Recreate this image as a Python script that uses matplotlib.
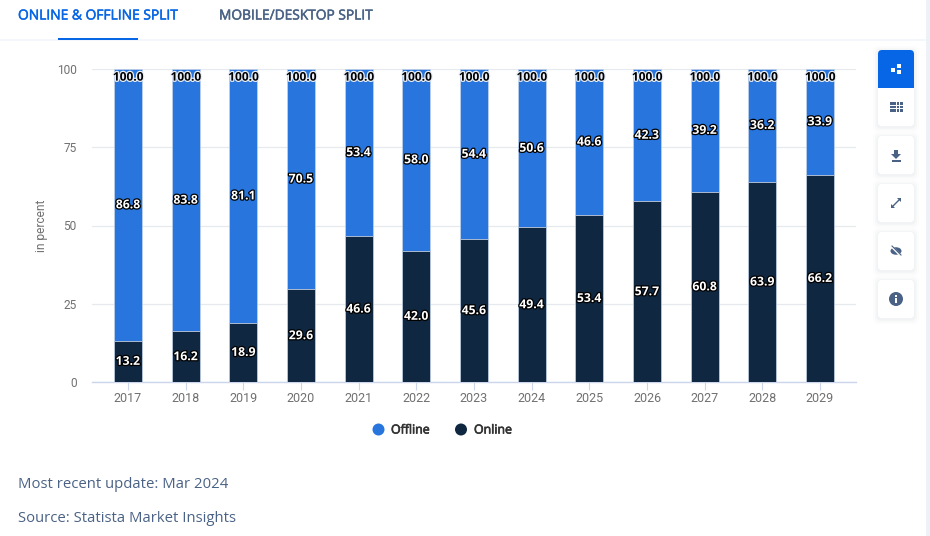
#!/usr/bin/env python3
"""Online/offline split stacked bars, Statista style page."""

import matplotlib
matplotlib.use("Agg")
import matplotlib.patheffects as pe
import matplotlib.pyplot as plt
import numpy as np
from matplotlib.patches import Circle, Ellipse, FancyBboxPatch, Polygon, Rectangle

W, H = 930, 536

years = ["2017", "2018", "2019", "2020", "2021", "2022", "2023",
         "2024", "2025", "2026", "2027", "2028", "2029"]
online = [13.2, 16.2, 18.9, 29.6, 46.6, 42.0, 45.6, 49.4, 53.4, 57.7, 60.8, 63.9, 66.2]
offline = [86.8, 83.8, 81.1, 70.5, 53.4, 58.0, 54.4, 50.6, 46.6, 42.3, 39.2, 36.2, 33.9]
totals = [100.0] * 13
y_ticks = [0, 25, 50, 75, 100]
series_names = ["Offline", "Online"]

BLUE = "#2775dd"
NAVY = "#0f2740"
TAB_BLUE = "#0666e5"
SLATE = "#4a6285"
TICK_GREY = "#707070"

plt.rcParams["font.family"] = ["Open Sans", "DejaVu Sans"]

fig = plt.figure(figsize=(W / 100, H / 100), dpi=100, facecolor="white")

# page layer in pixel coordinates
bg = fig.add_axes([0, 0, 1, 1], zorder=0)
bg.set_xlim(0, W)
bg.set_ylim(H, 0)
bg.axis("off")


def fat(color, width=0.35):
    # the fonts here have no usable medium weight, so thicken regular a little
    return [pe.withStroke(linewidth=width, foreground=color)]


bg.add_patch(Rectangle((926, 0), 4, H, color="#eef1f6", lw=0))
bg.add_patch(Rectangle((0, 39), 926, 1.5, color="#f3f6fa", lw=0))
bg.add_patch(Rectangle((58, 38), 80, 2, color=TAB_BLUE, lw=0))
bg.text(18, 16, "ONLINE & OFFLINE SPLIT", fontsize=9.95, color=TAB_BLUE, va="center", path_effects=fat(TAB_BLUE))
bg.text(219, 16, "MOBILE/DESKTOP SPLIT", fontsize=9.9, color=SLATE, va="center", path_effects=fat(SLATE))
bg.text(18, 484, "Most recent update: Mar 2024", fontsize=10.75, color=SLATE, va="center")
bg.text(18, 518, "Source: Statista Market Insights", fontsize=10.75, color=SLATE, va="center")


def button(x, y, w, h, color="white"):
    for grow, alpha in ((5, 0.012), (3, 0.018), (1.5, 0.025)):
        bg.add_patch(FancyBboxPatch((x - grow, y - grow + 1), w + 2 * grow, h + 2 * grow,
                                    boxstyle="round,pad=0,rounding_size=5", fc="#1a3050",
                                    ec="none", alpha=alpha))
    bg.add_patch(FancyBboxPatch((x, y), w, h, boxstyle="round,pad=0,rounding_size=4",
                                fc=color, ec="none"))


# right hand tool buttons
button(878, 50, 36, 76)
button(878, 136, 36, 38)
button(878, 184, 36, 38)
button(878, 232, 36, 38)
button(878, 280, 36, 38)
bg.add_patch(FancyBboxPatch((878, 50), 36, 38, boxstyle="round,pad=0,rounding_size=4",
                            fc=TAB_BLUE, ec="none"))
bg.add_patch(Rectangle((878, 76), 36, 12, color=TAB_BLUE, lw=0))

# icons
for x, y, w, h in [(891, 68, 4, 4), (897, 64, 4, 4), (897, 69.5, 4, 4.5)]:
    bg.add_patch(Rectangle((x, y), w, h, color="white", lw=0))
for row in range(3):
    y = 102 + row * 3.6
    bg.add_patch(Rectangle((890, y), 6, 2.8, color=SLATE, lw=0))
    for col in range(2):
        bg.add_patch(Rectangle((897 + col * 3.2, y), 2.4, 2.8, color=SLATE, lw=0))
bg.add_patch(Polygon([(894, 150), (898, 150), (898, 154), (901, 154), (896, 159), (891, 154), (894, 154)],
                     color=SLATE, lw=0))
bg.add_patch(Rectangle((892, 160), 8.5, 1.5, color=SLATE, lw=0))
bg.plot([893, 899], [206, 200], color=SLATE, lw=1.0)
bg.add_patch(Polygon([(891, 204), (891, 208), (895, 208)], color=SLATE, lw=0))
bg.add_patch(Polygon([(897, 198), (901, 198), (901, 202)], color=SLATE, lw=0))
bg.add_patch(Ellipse((896, 251), 11, 7.5, color=SLATE, lw=0))
bg.plot([891, 901], [246, 256], color="white", lw=1.6)
bg.plot([892, 901], [246, 255], color=SLATE, lw=0.8)
bg.add_patch(Circle((896, 299), 7, color=SLATE, lw=0))
bg.add_patch(Rectangle((895.1, 298), 1.9, 4.6, color="white", lw=0))
bg.add_patch(Rectangle((895.1, 295), 1.9, 1.9, color="white", lw=0))

# legend, drawn by hand to sit where the page has it
bg.add_patch(Circle((378.5, 429.5), 6, color=BLUE, lw=0))
bg.add_patch(Circle((461, 429.5), 6, color=NAVY, lw=0))
bg.text(391, 430, series_names[0], fontsize=8.9, color="#333333", va="center", path_effects=fat("#333333", 0.5))
bg.text(474, 430, series_names[1], fontsize=8.9, color="#333333", va="center", path_effects=fat("#333333", 0.5))

# chart
left, right, top, bottom = 92, 856, 69, 382
ax = fig.add_axes([left / W, 1 - bottom / H, (right - left) / W, (bottom - top) / H], zorder=1)
ax.patch.set_alpha(0)
x = np.arange(len(years))
bar_w = 0.485
edge = "#c5d3ea"
ax.bar(x, offline, bar_w, bottom=online, color=BLUE, edgecolor=edge, linewidth=0.5, zorder=3)
ax.bar(x, online, bar_w, color=NAVY, edgecolor=edge, linewidth=0.5, zorder=3)

ax.set_xlim(-0.624, 12.624)
ax.set_ylim(0, 100)
ax.set_yticks(y_ticks)
ax.set_xticks(x, years)
ax.grid(axis="y", color="#e6e9ee", lw=0.9, zorder=0)
ax.set_axisbelow(True)
for side in ("top", "right", "left"):
    ax.spines[side].set_visible(False)
ax.spines["bottom"].set_color("#ccd6eb")
ax.spines["bottom"].set_linewidth(1)
ax.tick_params(axis="x", length=6, color="#ccd6eb", labelsize=9, labelcolor=TICK_GREY, pad=1)
ax.tick_params(axis="y", length=0, labelsize=8.6, labelcolor=TICK_GREY, pad=11)
for lab in ax.get_xticklabels() + ax.get_yticklabels():
    lab.set_fontfamily(["Roboto", "DejaVu Sans"])
ax.set_ylabel("in percent", fontsize=8.6, color=TICK_GREY, labelpad=0)
ax.yaxis.set_label_coords((48 - left) / (right - left), 0.5)
ax.yaxis.label.set_fontfamily(["Roboto", "DejaVu Sans"])

halo_dark = [pe.withStroke(linewidth=1.8, foreground="black")]
halo_light = [pe.withStroke(linewidth=1.8, foreground="#e8eef8")]
for i in x:
    ax.text(i, online[i] / 2, f"{online[i]:.1f}", ha="center", va="center", fontsize=8.8,
            color="white", weight="bold", path_effects=halo_dark, zorder=5)
    ax.text(i, online[i] + offline[i] / 2, f"{offline[i]:.1f}", ha="center", va="center", fontsize=8.8,
            color="white", weight="bold", path_effects=halo_dark, zorder=5)
    ax.text(i, 97.4, f"{totals[i]:.1f}", ha="center", va="center", fontsize=8.6,
            color="black", weight="bold", path_effects=halo_light, zorder=5)

fig.savefig("out.png", dpi=100)
